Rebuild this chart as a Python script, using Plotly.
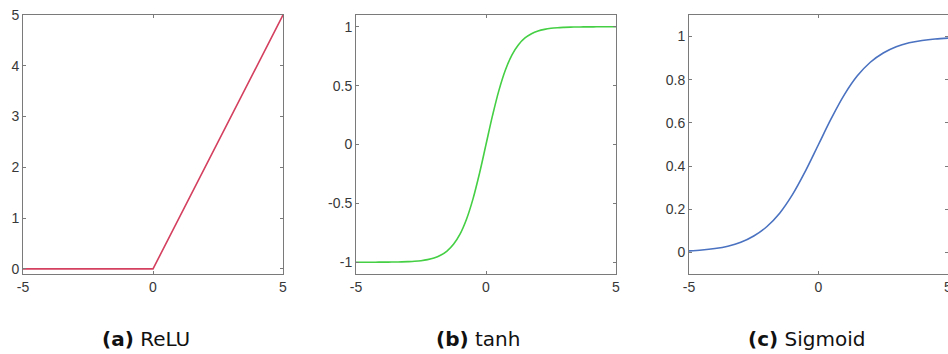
import plotly.graph_objects as go

# ---------------- data ----------------
relu_x = [-5, 0, 5]
relu_y = [0, 0, 5]

tanh_x = [-5, -4.75, -4.5, -4.25, -4, -3.75, -3.5, -3.25, -3, -2.75, -2.5, -2.25, -2, -1.75,
          -1.5, -1.25, -1, -0.75, -0.5, -0.25, 0, 0.25, 0.5, 0.75, 1, 1.25, 1.5, 1.75, 2,
          2.25, 2.5, 2.75, 3, 3.25, 3.5, 3.75, 4, 4.25, 4.5, 4.75, 5]
tanh_y = [-1.000, -1.000, -1.000, -1.000, -0.999, -0.999, -0.998, -0.997, -0.995, -0.992,
          -0.987, -0.978, -0.964, -0.941, -0.905, -0.848, -0.762, -0.635, -0.462, -0.245,
          0.000, 0.245, 0.462, 0.635, 0.762, 0.848, 0.905, 0.941, 0.964, 0.978, 0.987,
          0.992, 0.995, 0.997, 0.998, 0.999, 0.999, 1.000, 1.000, 1.000, 1.000]

sig_x = [-5, -4.5, -4, -3.5, -3, -2.5, -2, -1.5, -1, -0.5, 0, 0.5, 1, 1.5, 2, 2.5, 3, 3.5, 4, 4.5, 5]
sig_y = [0.007, 0.011, 0.018, 0.029, 0.047, 0.076, 0.119, 0.182, 0.269, 0.378, 0.500,
         0.622, 0.731, 0.818, 0.881, 0.924, 0.953, 0.971, 0.982, 0.989, 0.993]

x_ticks = [-5, 0, 5]
x_labels = ["-5", "0", "5"]
relu_yticks = [0, 1, 2, 3, 4, 5]
relu_ylabels = ["0", "1", "2", "3", "4", "5"]
tanh_yticks = [-1, -0.5, 0, 0.5, 1]
tanh_ylabels = ["-1", "-0.5", "0", "0.5", "1"]
sig_yticks = [0, 0.2, 0.4, 0.6, 0.8, 1]
sig_ylabels = ["0", "0.2", "0.4", "0.6", "0.8", "1"]

captions = [("(a)", "ReLU"), ("(b)", "tanh"), ("(c)", "Sigmoid")]
colors = ["#d4405f", "#44cf44", "#4a72c0"]

# ---------------- figure ----------------
W, H = 948, 354
fig = go.Figure()

fig.add_trace(go.Scatter(x=relu_x, y=relu_y, mode="lines", xaxis="x", yaxis="y",
                         line=dict(color=colors[0], width=1.6)))
fig.add_trace(go.Scatter(x=tanh_x, y=tanh_y, mode="lines", xaxis="x2", yaxis="y2",
                         line=dict(color=colors[1], width=1.6, shape="spline")))
fig.add_trace(go.Scatter(x=sig_x, y=sig_y, mode="lines", xaxis="x3", yaxis="y3",
                         line=dict(color=colors[2], width=1.6, shape="spline")))

axcol = "#7a7a7a"
tickfont = dict(family="Liberation Sans, Arial, sans-serif", size=14, color="#383838")

def xax(domain, anchor):
    return dict(domain=domain, anchor=anchor, range=[-5, 5], tickvals=x_ticks, ticktext=x_labels,
                showgrid=False, zeroline=False, showline=True, linecolor=axcol, linewidth=1,
                mirror="ticks", ticks="inside", ticklen=3, tickcolor=axcol, tickfont=tickfont,
                automargin=False, fixedrange=True, ticklabeloverflow="allow")

def yax(domain, anchor, rng, vals, labels):
    return dict(domain=domain, anchor=anchor, range=rng, tickvals=vals, ticktext=labels,
                showgrid=False, zeroline=False, showline=True, linecolor=axcol, linewidth=1,
                mirror="ticks", ticks="inside", ticklen=3, tickcolor=axcol, tickfont=tickfont,
                automargin=False, fixedrange=True)

ydom = [1 - 274 / H, 1 - 15 / H]
d1 = [23 / W, 283 / W]
d2 = [356 / W, 616 / W]
d3 = [689 / W, 1.0]

fig.update_layout(
    width=W, height=H,
    margin=dict(l=0, r=0, t=0, b=0, pad=0, autoexpand=False),
    paper_bgcolor="white", plot_bgcolor="white",
    showlegend=False,
    xaxis=xax(d1, "y"),
    yaxis=yax(ydom, "x", [-0.1, 5], relu_yticks, relu_ylabels),
    xaxis2=xax(d2, "y2"),
    yaxis2=yax(ydom, "x2", [-1.1, 1.1], tanh_yticks, tanh_ylabels),
    xaxis3=xax(d3, "y3"),
    yaxis3=yax(ydom, "x3", [-0.1, 1.1], sig_yticks, sig_ylabels),
)

cap_x = [146 / W, 478 / W, 806 / W]
for (tag, name), cx in zip(captions, cap_x):
    fig.add_annotation(x=cx, y=1 - 339 / H, xref="paper", yref="paper",
                       text=f"<b>{tag}</b> {name}", showarrow=False,
                       xanchor="center", yanchor="middle",
                       font=dict(family="DejaVu Sans, sans-serif", size=20, color="#111111"))

fig.write_html("out.html", config={"displayModeBar": False},
               post_script="document.body.style.margin='0';document.body.style.overflow='hidden';")
